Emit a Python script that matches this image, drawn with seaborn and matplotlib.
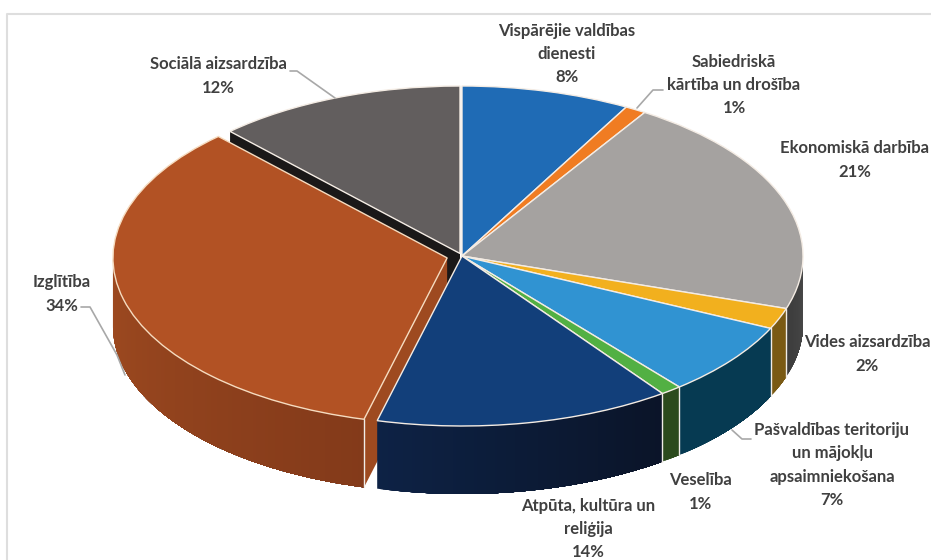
import numpy as np
import matplotlib
matplotlib.use('Agg')
from matplotlib import pyplot as plt
import seaborn as sns

categories = ["Vispārējie valdības\ndienesti", "Sabiedriskā\nkārtība un drošība", "Ekonomiskā darbība",
              "Vides aizsardzība", "Pašvaldības teritoriju\nun mājokļu\napsaimniekošana", "Veselība",
              "Atpūta, kultūra un\nreliģija", "Izglītība", "Sociālā aizsardzība"]
shares = [8, 1, 21, 2, 7, 1, 14, 34, 12]
explode = [0, 0, 0, 0, 0, 0, 0, 0.045, 0.016]

top_colors = ["#1f6bb5", "#f07c22", "#a5a2a0", "#f2b01e", "#3093d2", "#52b043", "#123f7a", "#b25224", "#625e5e"]
wall_left = ["#123f6e", "#8a4612", "#3c3c3c", "#7a5a14", "#063a52", "#2b4a1c", "#0d2245", "#9e4a20", "#1a1818"]
wall_right = ["#123f6e", "#8a4612", "#4a4a4a", "#7a5a14", "#063a52", "#2b4a1c", "#0b1428", "#833a1a", "#1a1818"]

label_xy = [(567, 54), (734, 85), (855, 160), (867, 354), (832, 465), (700, 492), (588, 529), (62, 294), (218, 76)]
leaders = [[(290, 71), (297, 71), (335, 98)],
           [(663, 90), (653, 90), (637, 108)],
           [(81, 307), (90, 307), (117, 355), (125, 375)],
           [(732, 430), (742, 439), (751, 439)]]

W, H = 931, 560
cx, cy = 462, 256
rx, ry = 341, 170
depth = 68 / ry
izg, soc, eko = 7, 8, 2

sns.set_theme(style="white")
plt.rcParams['font.family'] = ['Lato', 'DejaVu Sans']

fig, ax = plt.subplots(figsize=(W / 100, H / 100), dpi=100)
fig.subplots_adjust(0, 0, 1, 1)

wedges, _ = ax.pie(shares, colors=top_colors, explode=explode, startangle=90, counterclock=False,
                   wedgeprops=dict(edgecolor="#f4ece4", linewidth=1))
# pie is flattened to an ellipse by the axis limits
ax.set_aspect('auto')
ax.set_xlim(-cx / rx, (W - cx) / rx)
ax.set_ylim((cy - H) / ry, cy / ry)
ax.axis('off')


def outer_wall(w, c1, c2, z, edge=True):
    th = np.linspace(w.theta1, w.theta2, int((w.theta2 - w.theta1) * 2) + 2)
    th = th[np.sin(np.radians(th)) <= 0]
    if len(th) < 2:
        return
    xs = w.center[0] + w.r * np.cos(np.radians(th))
    ys = w.center[1] + w.r * np.sin(np.radians(th))
    # left to right along the front of the pie
    order = np.argsort(xs)
    xs, ys = xs[order], ys[order]
    pal = sns.blend_palette([c1, c2], len(xs))
    # each piece runs on to the end of the wall so no seams show
    for i in range(len(xs) - 1):
        px = np.r_[xs[i:], xs[i:][::-1]]
        py = np.r_[ys[i:], ys[i:][::-1] - depth]
        ax.fill(px, py, color=pal[i], lw=0, zorder=z)
    if edge:
        ax.plot([xs[-1], xs[-1]], [ys[-1], ys[-1] - depth], color="#f0ece8", lw=1, zorder=z)


def radial_wall(w, color, z):
    a = np.radians(w.theta2)
    x0, y0 = w.center
    x1, y1 = x0 + w.r * np.cos(a), y0 + w.r * np.sin(a)
    ax.fill([x0, x1, x1, x0], [y0, y1, y1 - depth, y0 - depth], color=color, lw=0, zorder=z)


wedges[soc].set_radius(0.985)
radial_wall(wedges[soc], wall_left[soc], 2)
wedges[izg].set_radius(0.98)
radial_wall(wedges[izg], "#9e4a20", 3)
outer_wall(wedges[izg], wall_left[izg], wall_right[izg], 3)
wedges[izg].set_zorder(4)
wedges[izg].set_edgecolor("#f6dcc0")
for i, w in enumerate(wedges):
    if i == izg:
        continue
    outer_wall(w, wall_left[i], wall_right[i], 5, edge=i != eko)
    w.set_zorder(6)

for name, share, (x, y) in zip(categories, shares, label_xy):
    ax.text(x / W, 1 - y / H, f"{name}\n{share}%", transform=fig.transFigure, ha='center', va='center',
            fontsize=12, fontweight='bold', color="#404040", linespacing=1.54, zorder=8)

for pts in leaders:
    ax.plot([p[0] / W for p in pts], [1 - p[1] / H for p in pts], transform=fig.transFigure,
            color="#a8a8a8", lw=1.2, zorder=7, clip_on=False)

# thin frame of the screenshot
ax.plot([7 / W, 7 / W, 1], [0, 1 - 14 / H, 1 - 14 / H], transform=fig.transFigure,
        color="#dedede", lw=1.5, zorder=1, clip_on=False)

plt.savefig('out.png', dpi=100)
